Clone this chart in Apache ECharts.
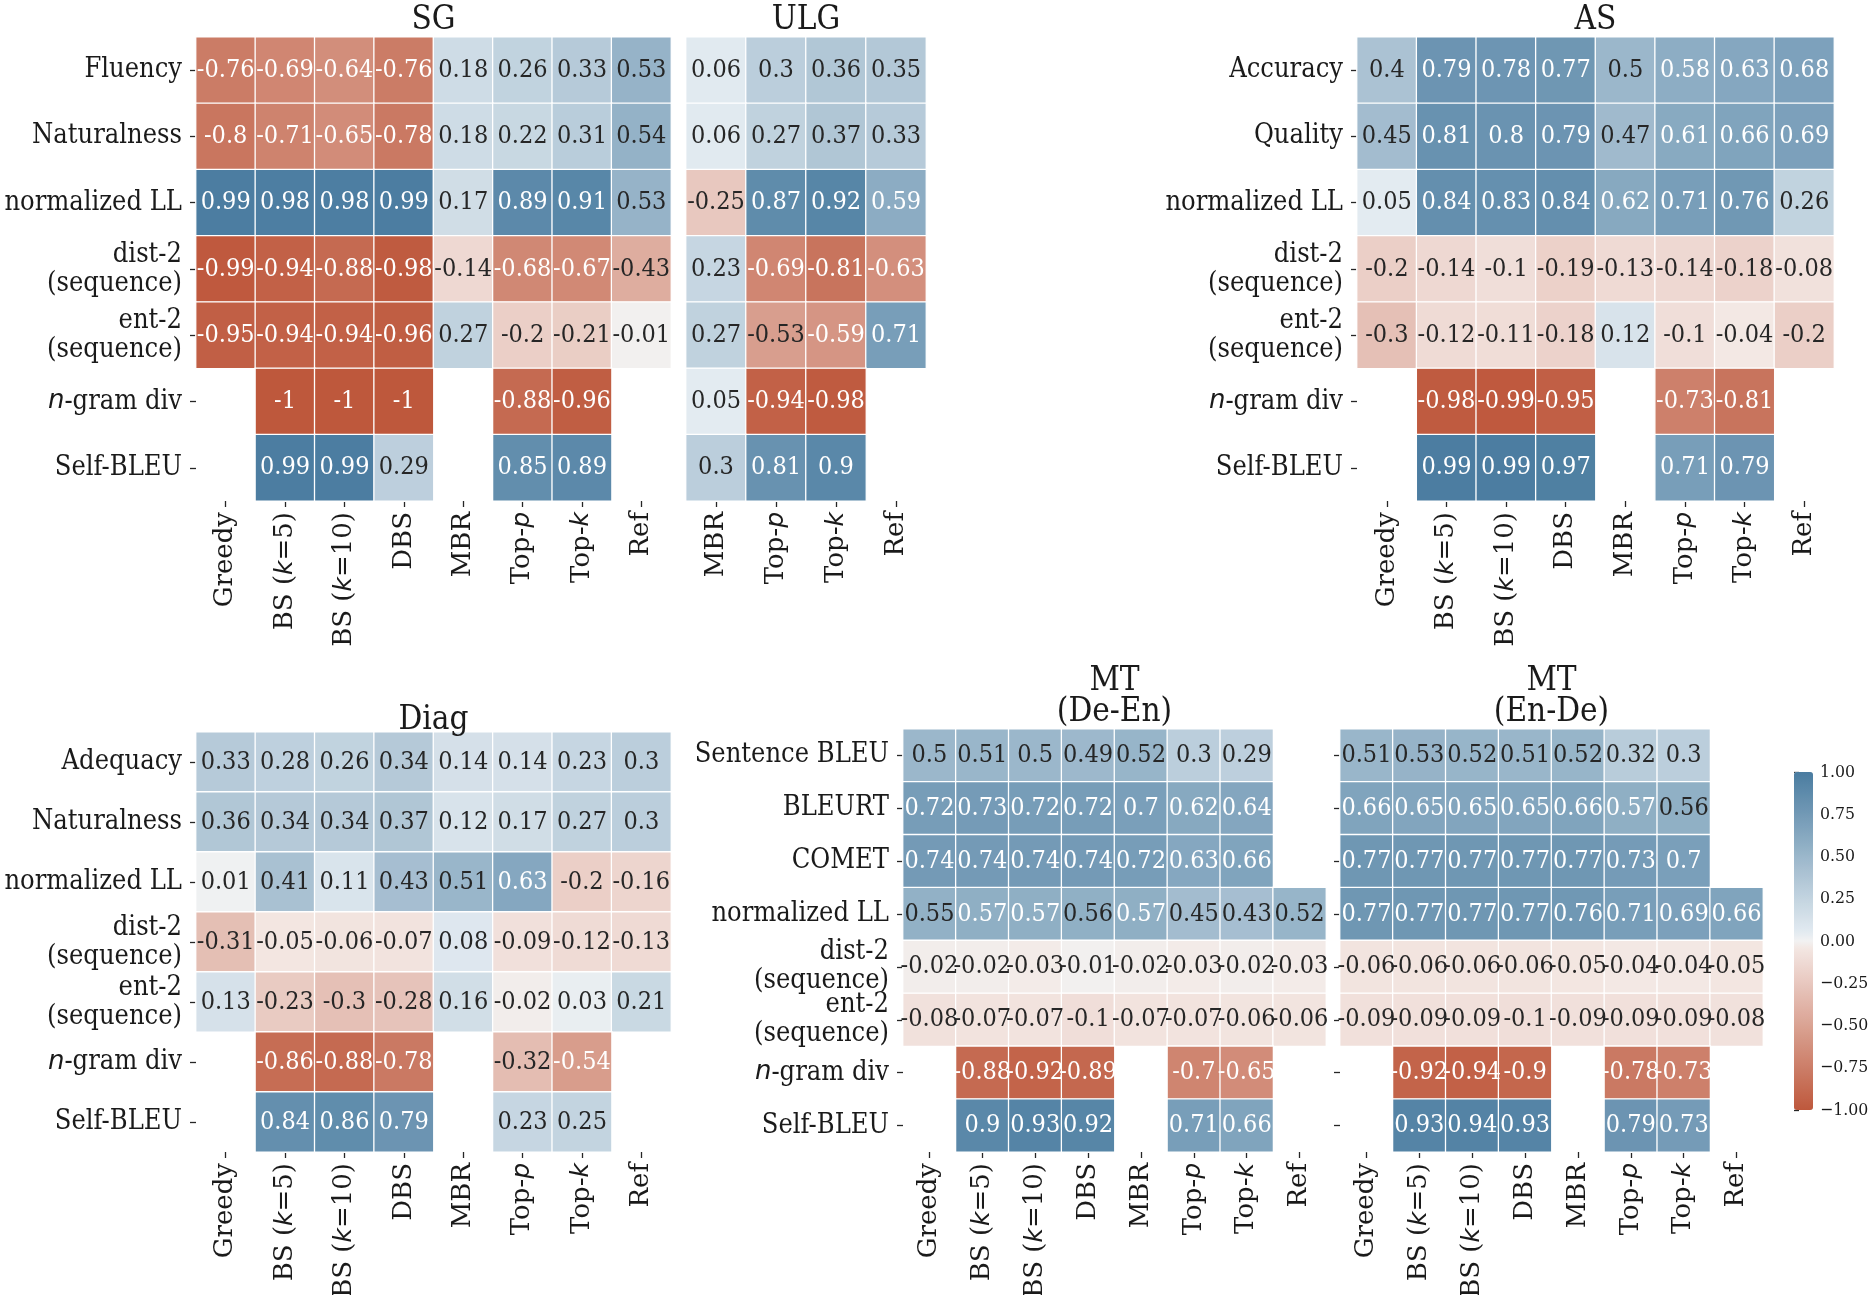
<!DOCTYPE html>
<html><head><meta charset="utf-8">
<script src="https://cdn.jsdelivr.net/npm/echarts@6/dist/echarts.min.js"></script>
<style>html,body{margin:0;padding:0;background:#fff}#c{width:1870px;height:1295px}</style>
</head><body><div id="c"></div>
<script>
// ---------- categories ----------
const methods = ['Greedy', 'BS (k=5)', 'BS (k=10)', 'DBS', 'MBR', 'Top-p', 'Top-k', 'Ref'];
const ulgMethods = ['MBR', 'Top-p', 'Top-k', 'Ref'];
const sgRows = ['Fluency', 'Naturalness', 'normalized LL', 'dist-2\n(sequence)', 'ent-2\n(sequence)', 'n-gram div', 'Self-BLEU'];
const asRows = ['Accuracy', 'Quality', 'normalized LL', 'dist-2\n(sequence)', 'ent-2\n(sequence)', 'n-gram div', 'Self-BLEU'];
const diagRows = ['Adequacy', 'Naturalness', 'normalized LL', 'dist-2\n(sequence)', 'ent-2\n(sequence)', 'n-gram div', 'Self-BLEU'];
const mtRows = ['Sentence BLEU', 'BLEURT', 'COMET', 'normalized LL', 'dist-2\n(sequence)', 'ent-2\n(sequence)', 'n-gram div', 'Self-BLEU'];
const panelTitles = ['SG', 'ULG', 'AS', 'Diag', 'MT\n(De-En)', 'MT\n(En-De)'];

// ---------- values (rows top to bottom, columns left to right) ----------
const sgValues = [
  [-0.76, -0.69, -0.64, -0.76, 0.18, 0.26, 0.33, 0.53],
  [-0.8, -0.71, -0.65, -0.78, 0.18, 0.22, 0.31, 0.54],
  [0.99, 0.98, 0.98, 0.99, 0.17, 0.89, 0.91, 0.53],
  [-0.99, -0.94, -0.88, -0.98, -0.14, -0.68, -0.67, -0.43],
  [-0.95, -0.94, -0.94, -0.96, 0.27, -0.2, -0.21, -0.01],
  [null, -1, -1, -1, null, -0.88, -0.96, null],
  [null, 0.99, 0.99, 0.29, null, 0.85, 0.89, null]
];
const ulgValues = [
  [0.06, 0.3, 0.36, 0.35],
  [0.06, 0.27, 0.37, 0.33],
  [-0.25, 0.87, 0.92, 0.59],
  [0.23, -0.69, -0.81, -0.63],
  [0.27, -0.53, -0.59, 0.71],
  [0.05, -0.94, -0.98, null],
  [0.3, 0.81, 0.9, null]
];
const asValues = [
  [0.4, 0.79, 0.78, 0.77, 0.5, 0.58, 0.63, 0.68],
  [0.45, 0.81, 0.8, 0.79, 0.47, 0.61, 0.66, 0.69],
  [0.05, 0.84, 0.83, 0.84, 0.62, 0.71, 0.76, 0.26],
  [-0.2, -0.14, -0.1, -0.19, -0.13, -0.14, -0.18, -0.08],
  [-0.3, -0.12, -0.11, -0.18, 0.12, -0.1, -0.04, -0.2],
  [null, -0.98, -0.99, -0.95, null, -0.73, -0.81, null],
  [null, 0.99, 0.99, 0.97, null, 0.71, 0.79, null]
];
const diagValues = [
  [0.33, 0.28, 0.26, 0.34, 0.14, 0.14, 0.23, 0.3],
  [0.36, 0.34, 0.34, 0.37, 0.12, 0.17, 0.27, 0.3],
  [0.01, 0.41, 0.11, 0.43, 0.51, 0.63, -0.2, -0.16],
  [-0.31, -0.05, -0.06, -0.07, 0.08, -0.09, -0.12, -0.13],
  [0.13, -0.23, -0.3, -0.28, 0.16, -0.02, 0.03, 0.21],
  [null, -0.86, -0.88, -0.78, null, -0.32, -0.54, null],
  [null, 0.84, 0.86, 0.79, null, 0.23, 0.25, null]
];
const mtDeEnValues = [
  [0.5, 0.51, 0.5, 0.49, 0.52, 0.3, 0.29, null],
  [0.72, 0.73, 0.72, 0.72, 0.7, 0.62, 0.64, null],
  [0.74, 0.74, 0.74, 0.74, 0.72, 0.63, 0.66, null],
  [0.55, 0.57, 0.57, 0.56, 0.57, 0.45, 0.43, 0.52],
  [-0.02, -0.02, -0.03, -0.01, -0.02, -0.03, -0.02, -0.03],
  [-0.08, -0.07, -0.07, -0.1, -0.07, -0.07, -0.06, -0.06],
  [null, -0.88, -0.92, -0.89, null, -0.7, -0.65, null],
  [null, 0.9, 0.93, 0.92, null, 0.71, 0.66, null]
];
const mtEnDeValues = [
  [0.51, 0.53, 0.52, 0.51, 0.52, 0.32, 0.3, null],
  [0.66, 0.65, 0.65, 0.65, 0.66, 0.57, 0.56, null],
  [0.77, 0.77, 0.77, 0.77, 0.77, 0.73, 0.7, null],
  [0.77, 0.77, 0.77, 0.77, 0.76, 0.71, 0.69, 0.66],
  [-0.06, -0.06, -0.06, -0.06, -0.05, -0.04, -0.04, -0.05],
  [-0.09, -0.09, -0.09, -0.1, -0.09, -0.09, -0.09, -0.08],
  [null, -0.92, -0.94, -0.9, null, -0.78, -0.73, null],
  [null, 0.93, 0.94, 0.93, null, 0.79, 0.73, null]
];

// ---------- styles ----------
const SERIF_C = "'DejaVu Serif Condensed', 'Liberation Serif', serif";
const SERIF = "'DejaVu Serif', serif";
const SANS = "'DejaVu Sans', sans-serif";
const INK = '#1a1a1a';
const RED = [190, 88, 60], BLUE = [74, 124, 160];
const LIGHT_NEG = [246, 237, 234], LIGHT_POS = [235, 241, 245], MID = [242, 242, 242];

function lerp(a, b, t) { return a.map((x, i) => Math.round(x + (b[i] - x) * t)); }
function rgb(c) { return 'rgb(' + c.join(',') + ')'; }
const cmapColors = [];
for (let i = 0; i <= 40; i++) {
  const t = -1 + i * 0.05;
  let c;
  if (Math.abs(t) < 1e-9) c = MID;
  else if (t < 0) c = lerp(LIGHT_NEG, RED, -t);
  else c = lerp(LIGHT_POS, BLUE, t);
  cmapColors.push(rgb(c));
}
function textColor(v) { return (v >= 0.565 || v <= -0.535) ? '#ffffff' : '#262626'; }

function buildData(values) {
  const d = [];
  values.forEach((row, r) => row.forEach((v, c) => {
    if (v !== null) d.push({ value: [c, r, v], label: { color: textColor(v) } });
  }));
  return d;
}

function fmtX(s) {
  const m = s.match(/^(BS \(|Top-)([kp])(.*)$/);
  if (!m) return '{n|' + s + '}';
  return '{n|' + m[1] + '}{i|' + m[2] + '}' + (m[3] ? '{n|' + m[3] + '}' : '');
}
function fmtY(s) {
  if (s === 'n-gram div') return '{i|n}{n|-gram div}';
  return s;
}

// panel layout (pixels)
const panels = [
  { rows: sgRows, cols: methods, values: sgValues, left: 196, top: 37, width: 475, height: 464, yLabels: true, yTicks: true, titleTop: 5 },
  { rows: sgRows, cols: ulgMethods, values: ulgValues, left: 686, top: 37, width: 240, height: 464, yLabels: false, yTicks: false, titleTop: 5 },
  { rows: asRows, cols: methods, values: asValues, left: 1357, top: 37, width: 477, height: 464, yLabels: true, yTicks: true, titleTop: 5 },
  { rows: diagRows, cols: methods, values: diagValues, left: 196, top: 732, width: 475, height: 420, yLabels: true, yTicks: true, titleTop: 705 },
  { rows: mtRows, cols: methods, values: mtDeEnValues, left: 903, top: 729, width: 423, height: 423, yLabels: true, yTicks: true, titleTop: 666 },
  { rows: mtRows, cols: methods, values: mtEnDeValues, left: 1340, top: 729, width: 423, height: 423, yLabels: false, yTicks: true, titleTop: 666 }
];

const grid = [], xAxis = [], yAxis = [], series = [], title = [];
const tickStyle = { color: '#262626', width: 1.3 };
panels.forEach((p, i) => {
  grid.push({ left: p.left, top: p.top, width: p.width, height: p.height, outerBoundsMode: 'none', containLabel: false });
  xAxis.push({
    type: 'category', gridIndex: i, data: p.cols, position: 'bottom',
    axisLine: { show: false }, splitLine: { show: false },
    axisTick: { show: true, alignWithLabel: true, length: 6, lineStyle: tickStyle },
    axisLabel: {
      interval: 0, rotate: 90, margin: 11, fontFamily: SERIF, fontSize: 26, color: INK,
      formatter: fmtX,
      rich: {
        n: { fontFamily: SERIF, fontSize: 26, color: INK },
        i: { fontFamily: SANS, fontStyle: 'italic', fontSize: 25, color: INK }
      }
    }
  });
  yAxis.push({
    type: 'category', gridIndex: i, data: p.rows, inverse: true,
    axisLine: { show: false }, splitLine: { show: false },
    axisTick: { show: p.yTicks, alignWithLabel: true, length: 6, lineStyle: tickStyle },
    axisLabel: {
      show: p.yLabels, interval: 0, margin: 14, fontFamily: SERIF_C, fontSize: 27, lineHeight: 29, color: INK,
      formatter: fmtY,
      rich: {
        n: { fontFamily: SERIF_C, fontSize: 27, color: INK },
        i: { fontFamily: SANS, fontStyle: 'italic', fontSize: 26, color: INK }
      }
    }
  });
  series.push({
    type: 'heatmap', xAxisIndex: i, yAxisIndex: i, data: buildData(p.values),
    itemStyle: { borderColor: '#ffffff', borderWidth: 1.3 },
    label: {
      show: true, fontFamily: SERIF_C, fontSize: 25,
      formatter: (q) => String(q.value[2])
    },
    emphasis: { disabled: true }
  });
  title.push({
    text: panelTitles[i], left: p.left + p.width / 2, top: p.titleTop, textAlign: 'center', padding: 0,
    textStyle: { fontFamily: SERIF_C, fontSize: 33, fontWeight: 'normal', color: INK, lineHeight: 31 }
  });
});

// colorbar axis
const cbIndex = panels.length;
grid.push({ left: 1794, top: 772, width: 19, height: 338, outerBoundsMode: 'none', containLabel: false });
xAxis.push({ type: 'value', gridIndex: cbIndex, show: false, min: 0, max: 1 });
yAxis.push({
  type: 'value', gridIndex: cbIndex, position: 'right', min: -1, max: 1, interval: 0.25,
  axisLine: { show: false }, splitLine: { show: false },
  axisTick: { show: true, length: 5, lineStyle: tickStyle },
  axisLabel: {
    margin: 7, fontFamily: SERIF_C, fontSize: 17.5, color: INK,
    formatter: (v) => (v < 0 ? '\u2212' : '') + Math.abs(v).toFixed(2)
  }
});

const chart = echarts.init(document.getElementById('c'), null, { renderer: 'canvas' });
chart.setOption({
  backgroundColor: '#ffffff',
  animation: false,
  title, grid, xAxis, yAxis, series,
  visualMap: {
    type: 'continuous', min: -1, max: 1, calculable: false, orient: 'vertical',
    left: 1794, top: 772, itemWidth: 19, itemHeight: 338, padding: 0,
    seriesIndex: [0, 1, 2, 3, 4, 5], hoverLink: false,
    inRange: { color: cmapColors }, textStyle: { color: 'transparent' }
  }
});
</script></body></html>
